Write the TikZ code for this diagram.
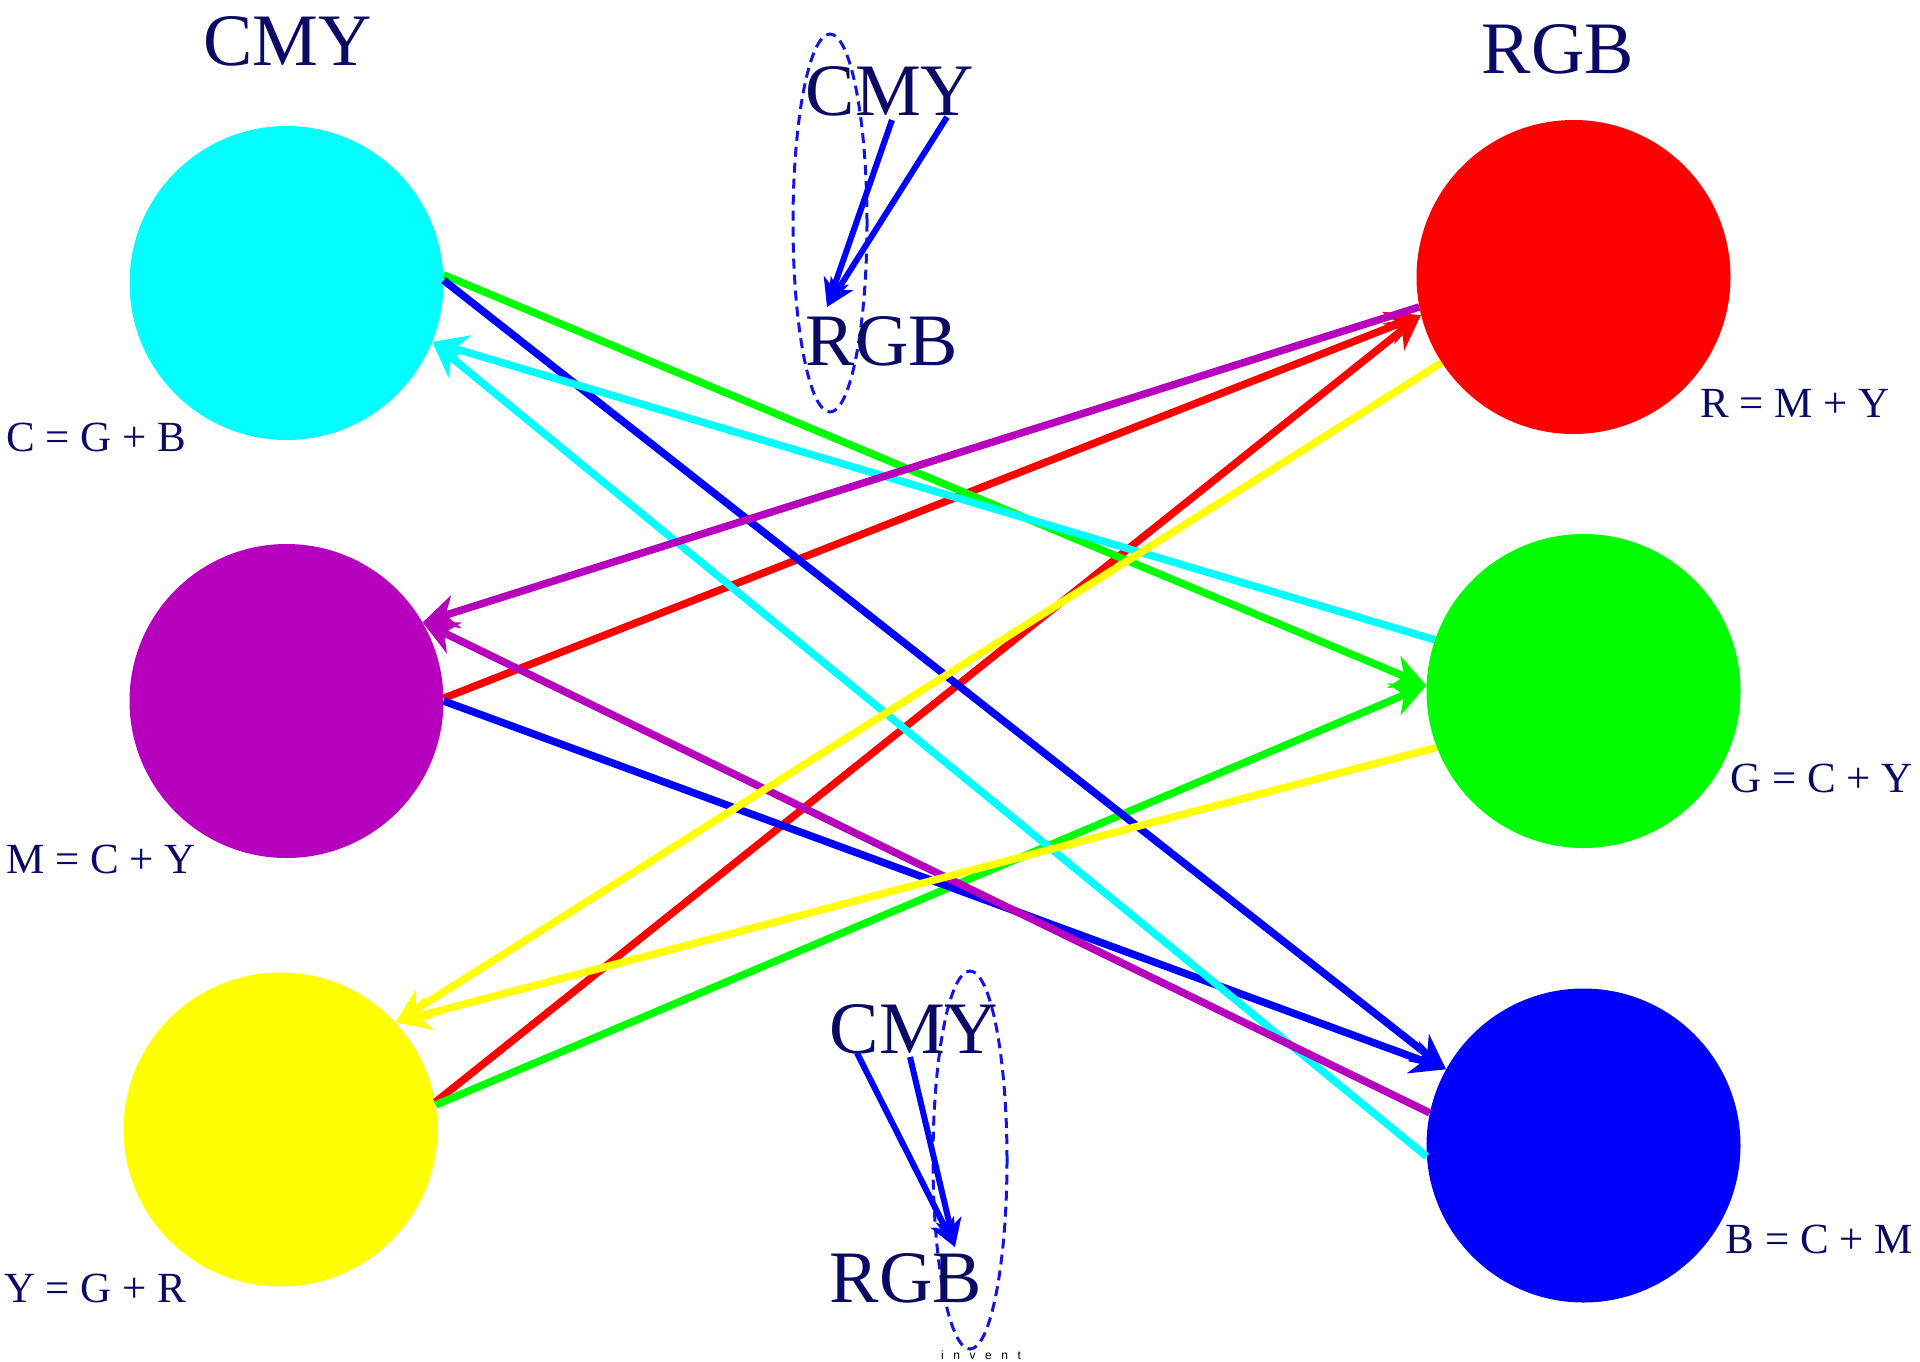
\documentclass[tikz,border=0pt]{standalone}
\usepackage{fontspec}
\setmainfont{Liberation Serif}
\newfontfamily\markfont[LetterSpace=80]{Liberation Sans}
\usetikzlibrary{arrows.meta,shapes.geometric}

\definecolor{navy}{RGB}{10,10,100}
\definecolor{cyanC}{RGB}{0,255,255}
\definecolor{magM}{RGB}{182,0,190}
\definecolor{yelY}{RGB}{255,255,0}
\definecolor{redR}{RGB}{255,0,0}
\definecolor{grnG}{RGB}{0,255,0}
\definecolor{bluB}{RGB}{0,0,255}
\definecolor{ringblue}{RGB}{20,20,225}

\begin{document}
\begin{tikzpicture}[x=1pt,y=-1pt,
  disc/.style={circle, minimum size=314pt, inner sep=0pt, draw=none},
  title/.style={text=navy, font=\fontsize{74}{80}\selectfont, inner sep=0pt, anchor=base},
  formula/.style={text=navy, font=\fontsize{43}{48}\selectfont, inner sep=0pt},
  link/.style={line width=7.5pt, -{Stealth[length=35pt, width=34pt, inset=11pt]}},
  minilink/.style={line width=6pt, draw=bluB, -{Stealth[length=28pt, width=26pt, inset=8pt]}},
  ring/.style={ellipse, draw=ringblue, dashed, dash pattern=on 10pt off 6pt,
               line width=3pt, minimum width=74pt, minimum height=378pt, inner sep=0pt}
]
\useasboundingbox (0,0) rectangle (1920,1361);

% subtractive primaries (left column)
\node[disc, fill=cyanC] (cyan)    at (286.5,283)  {};
\node[disc, fill=magM]  (magenta) at (286.5,701)  {};
\node[disc, fill=yelY]  (yellow)  at (280.5,1129.5) {};

% additive primaries (right column)
\node[disc, fill=redR]  (red)   at (1573.5,277)  {};
\node[disc, fill=grnG]  (green) at (1583.5,691)  {};
\node[disc, fill=bluB]  (blue)  at (1583.5,1145.5) {};

% column headings
\node[title] (headL) at (287.5,65) {CMY};
\node[title] (headR) at (1558,73) {RGB};

% formulas
\node[formula, anchor=base west] (fC) at (6,451)  {C = G + B};
\node[formula, anchor=base west] (fM) at (6,873)  {M = C + Y};
\node[formula, anchor=base west] (fY) at (4,1302) {Y = G + R};
\node[formula, anchor=base east] (fR) at (1890,417)  {R = M + Y};
\node[formula, anchor=base east] (fG) at (1913,792)  {G = C + Y};
\node[formula, anchor=base east] (fB) at (1913,1253) {B = C + M};

% RGB made of CMY pairs
\draw[link, draw=redR] (magenta.1.5) -- (red.194.5);
\draw[link, draw=redR] (yellow.10.5) -- (red.194.5);
\draw[link, draw=grnG] (cyan.3.6)    -- (green.178.5);
\draw[link, draw=grnG] (yellow.9.5)  -- (green.178.5);
\draw[link, draw=bluB] (cyan.1)      -- (blue.151);
\draw[link, draw=bluB] (magenta.0)   -- (blue.151);

% CMY made of RGB pairs
\draw[link, draw=cyanC] (green.161) -- (cyan.-22);
\draw[link, draw=cyanC] (blue.184)  -- (cyan.-22);
\draw[link, draw=magM]  (red.191)   -- (magenta.30.6);
\draw[link, draw=magM]  (blue.168.3) -- (magenta.30.6);
\draw[link, draw=yelY]  (red.213.5)  -- (yellow.43.2);
\draw[link, draw=yelY]  (green.201)  -- (yellow.43.2);

% upper conversion sketch
\node[ring] (ringT) at (830,223) {};
\node[title] (cmyT) at (890,115) {CMY};
\node[title] (rgbT) at (882,365) {RGB};
\coordinate (cmyTa) at (892,120);
\coordinate (cmyTb) at (947,117);
\coordinate (rgbTin) at (827,307);
\draw[minilink] (cmyTa) -- (rgbTin);
\draw[minilink] (cmyTb) -- (rgbTin);

% lower conversion sketch
\node[ring] (ringB) at (970,1160) {};
\node[title] (cmyB) at (914,1053) {CMY};
\node[title] (rgbB) at (906,1302) {RGB};
\coordinate (cmyBa) at (857,1053);
\coordinate (cmyBb) at (910,1057);
\coordinate (rgbBin) at (955,1247);
\draw[minilink] (cmyBa) -- (rgbBin);
\draw[minilink] (cmyBb) -- (rgbBin);

% small mark at the foot
\node[font=\markfont\fontsize{12}{12}\selectfont, anchor=base, inner sep=0pt] (mark) at (981,1359) {invent};
\end{tikzpicture}
\end{document}
